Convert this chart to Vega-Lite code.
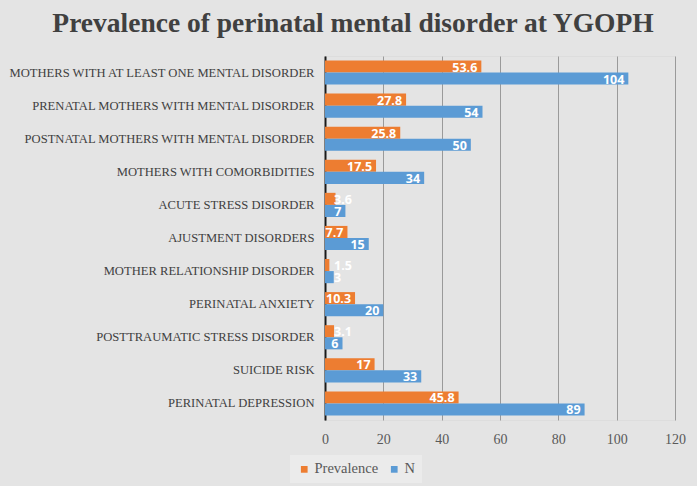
{
  "$schema": "https://vega.github.io/schema/vega-lite/v6.json",
  "width": 350,
  "height": 364,
  "autosize": {"type": "none"},
  "padding": {"left": 325, "top": 56, "right": 22, "bottom": 66},
  "background": "#e4e4e4",
  "config": {
    "font": "Liberation Serif",
    "legend": {"labelFont": "Liberation Serif"},
    "axis": {"labelFont": "Liberation Serif"}
  },
  "title": {
    "text": "Prevalence of perinatal mental disorder at YGOPH",
    "font": "Liberation Serif",
    "fontSize": 27.5,
    "fontWeight": "bold",
    "color": "#404040",
    "anchor": "middle",
    "frame": "group",
    "dx": -147,
    "offset": 19
  },
  "data": {
    "values": [
      {"category": "MOTHERS WITH AT LEAST ONE MENTAL DISORDER", "series": "Prevalence", "value": 53.6},
      {"category": "MOTHERS WITH AT LEAST ONE MENTAL DISORDER", "series": "N", "value": 104},
      {"category": "PRENATAL MOTHERS WITH MENTAL DISORDER", "series": "Prevalence", "value": 27.8},
      {"category": "PRENATAL MOTHERS WITH MENTAL DISORDER", "series": "N", "value": 54},
      {"category": "POSTNATAL MOTHERS WITH MENTAL DISORDER", "series": "Prevalence", "value": 25.8},
      {"category": "POSTNATAL MOTHERS WITH MENTAL DISORDER", "series": "N", "value": 50},
      {"category": "MOTHERS WITH COMORBIDITIES", "series": "Prevalence", "value": 17.5},
      {"category": "MOTHERS WITH COMORBIDITIES", "series": "N", "value": 34},
      {"category": "ACUTE STRESS DISORDER", "series": "Prevalence", "value": 3.6},
      {"category": "ACUTE STRESS DISORDER", "series": "N", "value": 7},
      {"category": "AJUSTMENT DISORDERS", "series": "Prevalence", "value": 7.7},
      {"category": "AJUSTMENT DISORDERS", "series": "N", "value": 15},
      {"category": "MOTHER  RELATIONSHIP DISORDER", "series": "Prevalence", "value": 1.5},
      {"category": "MOTHER  RELATIONSHIP DISORDER", "series": "N", "value": 3},
      {"category": "PERINATAL ANXIETY", "series": "Prevalence", "value": 10.3},
      {"category": "PERINATAL ANXIETY", "series": "N", "value": 20},
      {"category": "POSTTRAUMATIC STRESS DISORDER", "series": "Prevalence", "value": 3.1},
      {"category": "POSTTRAUMATIC STRESS DISORDER", "series": "N", "value": 6},
      {"category": "SUICIDE RISK", "series": "Prevalence", "value": 17},
      {"category": "SUICIDE RISK", "series": "N", "value": 33},
      {"category": "PERINATAL DEPRESSION", "series": "Prevalence", "value": 45.8},
      {"category": "PERINATAL DEPRESSION", "series": "N", "value": 89}
    ]
  },
  "encoding": {
    "y": {
      "field": "category",
      "type": "nominal",
      "sort": null,
      "title": null,
      "scale": {"paddingInner": 0.27, "paddingOuter": 0.135},
      "axis": {
        "ticks": false,
        "domain": true,
        "domainColor": "#1a1a1a",
        "domainWidth": 2,
        "labelFont": "Liberation Serif",
        "labelFontSize": 12.6,
        "labelColor": "#404040",
        "labelPadding": 11,
        "labelLimit": 330
      }
    },
    "yOffset": {"field": "series", "type": "nominal", "sort": ["Prevalence", "N"]},
    "x": {
      "field": "value",
      "type": "quantitative",
      "title": null,
      "scale": {"domain": [0, 120], "nice": false},
      "axis": {
        "values": [0, 20, 40, 60, 80, 100, 120],
        "domain": false,
        "ticks": false,
        "grid": true,
        "gridColor": "#9a9a9a",
        "gridWidth": 1,
        "labelFont": "Liberation Serif",
        "labelFontSize": 14,
        "labelColor": "#595959",
        "labelPadding": 12,
        "labelFlush": false
      }
    }
  },
  "layer": [
    {
      "mark": {"type": "bar"},
      "encoding": {
        "color": {
          "field": "series",
          "type": "nominal",
          "sort": ["Prevalence", "N"],
          "title": null,
          "scale": {"domain": ["Prevalence", "N"], "range": ["#ED7D31", "#5B9BD5"]},
          "legend": {
            "orient": "none",
            "direction": "horizontal",
            "legendX": -35,
            "legendY": 399,
            "symbolType": "square",
            "symbolSize": 45,
            "symbolStrokeWidth": 0,
            "labelFont": "Liberation Serif",
            "labelFontSize": 14.5,
            "labelColor": "#595959",
            "columnPadding": 8,
            "symbolOffset": 0,
            "labelOffset": 3,
            "fillColor": "#ebebeb",
            "padding": 7
          }
        }
      }
    },
    {
      "transform": [{"filter": "datum.value >= 4"}],
      "mark": {"type": "text", "align": "right", "baseline": "middle", "dx": -4, "dy": 1, "color": "white", "font": "Open Sans", "fontWeight": "bold", "fontSize": 12.5},
      "encoding": {"text": {"field": "value", "type": "quantitative"}}
    },
    {
      "transform": [{"filter": "datum.value < 4"}],
      "mark": {"type": "text", "align": "left", "baseline": "middle", "dx": 9, "dy": 1, "color": "white", "font": "Open Sans", "fontWeight": "bold", "fontSize": 12.5},
      "encoding": {
        "x": {"datum": 0, "type": "quantitative"},
        "text": {"field": "value", "type": "quantitative"}
      }
    }
  ]
}
